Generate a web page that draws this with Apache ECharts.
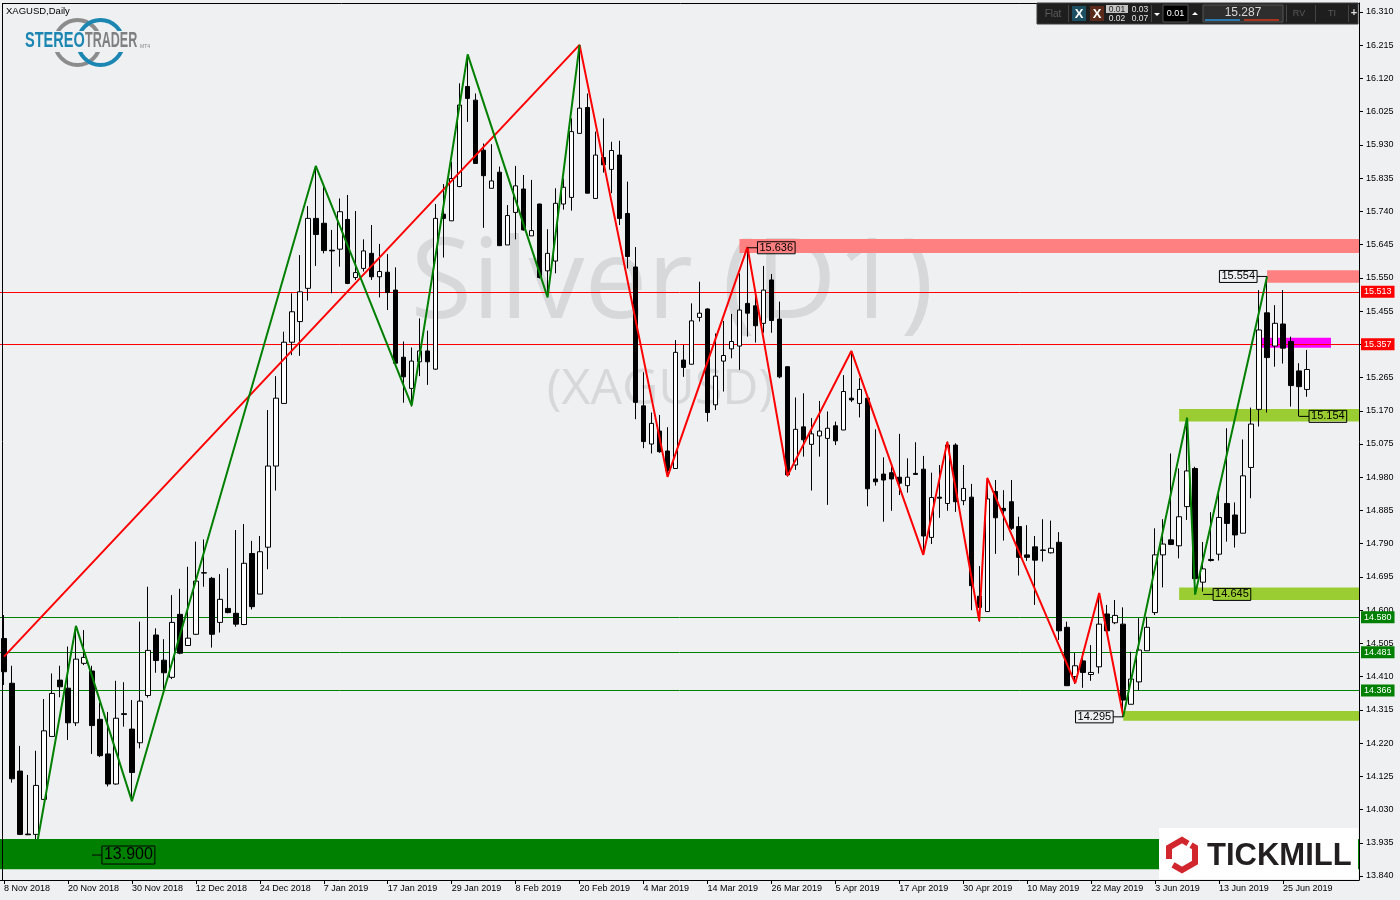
<!DOCTYPE html>
<html><head><meta charset="utf-8">
<script src="https://cdn.jsdelivr.net/npm/echarts@6/dist/echarts.min.js"></script>
<style>html,body{margin:0;padding:0;background:#eff0f2}#c{width:1400px;height:900px}</style>
</head><body><div id="c"></div>
<script>
// ---------- DATA ----------
const firstDay = '2018-11-08';
const tradingDayCount = 164;      // 8 Nov 2018 .. 28 Jun 2019
const futureSlots = 6;            // empty space on the right
const holidays = ['2018-12-25', '2019-01-01', '2019-04-19'];

// daily bars: [open, high, low, close]
const ohlc = [
[14.519,14.586,14.386,14.424],[14.391,14.441,14.107,14.118],[14.140,14.212,13.957,13.959],[13.960,14.129,13.957,13.958],
[13.959,14.198,13.915,14.099],[14.059,14.346,14.057,14.255],[14.239,14.419,14.239,14.362],[14.400,14.441,14.351,14.381],
[14.377,14.496,14.229,14.278],[14.278,14.552,14.269,14.460],[14.448,14.543,14.443,14.465],[14.426,14.441,14.189,14.270],
[14.288,14.336,14.180,14.184],[14.189,14.309,14.096,14.103],[14.103,14.398,14.101,14.291],[14.304,14.394,14.267,14.302],
[14.260,14.343,14.054,14.136],[14.221,14.567,14.205,14.340],[14.356,14.667,14.350,14.485],[14.529,14.548,14.421,14.456],
[14.457,14.517,14.372,14.421],[14.408,14.643,14.403,14.565],[14.588,14.661,14.474,14.477],[14.499,14.724,14.498,14.520],
[14.531,14.796,14.529,14.683],[14.707,14.802,14.667,14.706],[14.691,14.695,14.493,14.531],[14.565,14.703,14.536,14.631],
[14.605,14.720,14.591,14.593],[14.591,14.829,14.553,14.560],[14.559,14.846,14.557,14.734],[14.762,14.798,14.602,14.610],
[14.646,14.812,14.646,14.767],[14.780,15.172,14.717,15.012],[15.012,15.269,14.942,15.206],[15.191,15.396,15.191,15.366],
[15.366,15.506,15.329,15.453],[15.425,15.615,15.327,15.510],[15.520,15.755,15.485,15.720],[15.720,15.870,15.584,15.674],
[15.706,15.811,15.620,15.628],[15.629,15.687,15.506,15.627],[15.632,15.777,15.582,15.739],[15.717,15.787,15.532,15.534],
[15.551,15.741,15.544,15.565],[15.577,15.660,15.568,15.627],[15.620,15.701,15.544,15.553],[15.553,15.647,15.494,15.568],
[15.566,15.618,15.458,15.508],[15.515,15.580,15.306,15.306],[15.323,15.368,15.193,15.267],[15.234,15.351,15.182,15.312],
[15.310,15.434,15.269,15.341],[15.341,15.399,15.244,15.310],[15.289,15.761,15.287,15.720],[15.732,15.818,15.608,15.720],
[15.713,15.882,15.713,15.834],[15.811,16.106,15.809,16.044],[16.097,16.187,15.996,16.063],[16.058,16.077,15.877,15.877],
[15.915,15.934,15.693,15.842],[15.806,15.932,15.806,15.827],[15.852,15.868,15.642,15.642],[15.644,15.758,15.644,15.728],
[15.737,15.870,15.660,15.813],[15.804,15.844,15.685,15.687],[15.670,15.830,15.670,15.685],[15.761,15.762,15.548,15.551],
[15.570,15.689,15.496,15.620],[15.598,15.806,15.563,15.763],[15.761,15.834,15.745,15.809],[15.780,16.006,15.742,15.968],
[15.963,16.216,15.963,16.035],[16.037,16.077,15.792,15.792],[15.777,15.968,15.777,15.901],[15.894,16.006,15.851,15.873],
[15.860,15.939,15.792,15.914],[15.901,15.942,15.701,15.720],[15.734,15.825,15.577,15.611],[15.581,15.638,15.146,15.194],
[15.184,15.280,15.063,15.082],[15.075,15.165,15.048,15.134],[15.112,15.158,15.050,15.053],[15.055,15.123,14.982,14.999],
[15.005,15.372,15.005,15.337],[15.315,15.358,15.267,15.294],[15.303,15.477,15.303,15.427],[15.437,15.539,15.425,15.449],
[15.461,15.463,15.139,15.165],[15.187,15.391,15.172,15.269],[15.312,15.427,15.225,15.328],[15.347,15.447,15.320,15.368],
[15.355,15.563,15.287,15.458],[15.477,15.636,15.382,15.449],[15.470,15.506,15.365,15.413],[15.420,15.584,15.393,15.515],
[15.544,15.561,15.393,15.428],[15.432,15.482,15.263,15.267],[15.296,15.296,14.982,14.987],[15.015,15.208,15.001,15.117],
[15.124,15.220,15.039,15.087],[15.074,15.149,14.942,15.104],[15.098,15.198,15.039,15.112],[15.091,15.168,14.901,15.120],
[15.127,15.139,15.072,15.084],[15.115,15.272,15.115,15.225],[15.206,15.339,15.195,15.201],[15.191,15.263,15.151,15.231],
[15.206,15.210,14.897,14.947],[14.975,15.117,14.956,14.967],[14.989,15.037,14.853,14.972],[14.993,15.010,14.884,14.975],
[14.980,15.104,14.929,14.963],[14.956,15.034,14.936,14.980],[14.991,15.080,14.988,14.988],[15.003,15.041,14.758,14.812],
[14.808,14.993,14.789,14.922],[14.923,15.015,14.864,14.920],[14.905,15.082,14.884,15.072],[15.072,15.077,14.881,14.910],
[14.913,15.015,14.900,14.948],[14.923,14.961,14.600,14.670],[14.640,14.726,14.567,14.608],[14.596,14.978,14.596,14.918],
[14.939,14.972,14.761,14.864],[14.891,14.943,14.799,14.884],[14.910,14.972,14.829,14.834],[14.839,14.867,14.699,14.751],
[14.758,14.843,14.741,14.751],[14.781,14.812,14.615,14.743],[14.772,14.860,14.739,14.771],[14.764,14.856,14.762,14.777],
[14.794,14.823,14.515,14.541],[14.551,14.567,14.384,14.384],[14.410,14.478,14.389,14.441],[14.455,14.481,14.378,14.422],
[14.416,14.500,14.398,14.422],[14.438,14.646,14.419,14.560],[14.589,14.615,14.541,14.541],[14.564,14.629,14.560,14.585],
[14.560,14.608,14.295,14.343],[14.331,14.481,14.331,14.403],[14.395,14.577,14.370,14.486],[14.484,14.581,14.484,14.551],
[14.593,14.834,14.586,14.758],[14.758,14.860,14.665,14.789],[14.801,15.048,14.786,14.788],[14.784,15.005,14.748,14.867],
[14.896,15.150,14.858,14.998],[15.005,15.010,14.645,14.690],[14.680,14.795,14.653,14.718],[14.745,14.880,14.739,14.742],
[14.760,14.937,14.742,14.865],[14.905,15.120,14.796,14.848],[14.872,14.908,14.779,14.815],[14.820,15.088,14.820,14.984],
[15.008,15.179,14.920,15.132],[15.174,15.515,15.125,15.401],[15.450,15.554,15.165,15.322],[15.355,15.472,15.296,15.420],
[15.418,15.515,15.305,15.349],[15.368,15.382,15.182,15.242],[15.284,15.306,15.154,15.239],[15.231,15.344,15.210,15.288]
];

// price-axis tick labels
const yTicks = [13.840,13.935,14.030,14.125,14.220,14.315,14.410,14.505,14.600,14.695,14.790,14.885,14.980,
  15.075,15.170,15.265,15.360,15.455,15.550,15.645,15.740,15.835,15.930,16.025,16.120,16.215,16.310];

// zigzag vertices [bar index, price]
const greenZigLeft = [[4,13.915],[9,14.555],[16,14.054],[39,15.870],[51,15.185],[58,16.189],[68,15.494],[72,16.216]];
const redZig = [[0,14.467],[72,16.216],[83,14.981],[93,15.638],[98,14.984],[106,15.341],[115,14.758],[118,15.081],
  [122,14.569],[123,14.978],[134,14.391],[137,14.649],[140,14.298]];
const greenZigRight = [[140,14.295],[148,15.150],[149,14.645],[158,15.554]];

// horizontal levels
const redLevels = [15.513, 15.357];
const greenLevels = [14.580, 14.481, 14.366];

// zones: [start bar, end bar (null = right edge), top price, bottom price, kind]
const zones = [
  [92, null, 15.661, 15.621, 'resist'],
  [158, null, 15.572, 15.536, 'resist'],
  [157, 166, 15.379, 15.350, 'pivot'],
  [147, null, 15.175, 15.139, 'support'],
  [147, null, 14.665, 14.629, 'support'],
  [140, null, 14.312, 14.284, 'support']
];
const band = [13.946, 13.859];

// price tags: [bar, price, side, size]
const tags = [[93,15.636,'right','s'],[158,15.554,'left','s'],[162,15.154,'right','s'],
  [150,14.645,'right','s'],[140,14.295,'left','s'],[11,13.900,'right','l']];

// ---------- BUILD ----------
const dates = (function(){
  const out = []; const d = new Date(firstDay + 'T00:00:00Z');
  while (out.length < tradingDayCount + futureSlots) {
    const s = d.toISOString().slice(0,10), w = d.getUTCDay();
    if (w !== 0 && w !== 6 && holidays.indexOf(s) < 0) out.push(s);
    d.setUTCDate(d.getUTCDate() + 1);
  }
  return out;
})();
const MON = ['Jan','Feb','Mar','Apr','May','Jun','Jul','Aug','Sep','Oct','Nov','Dec'];
function fmtDate(s){ const p = s.split('-'); return (+p[2]) + ' ' + MON[+p[1]-1] + ' ' + p[0]; }
const showIdx = (i) => i % 8 === 0 && i < tradingDayCount;

const zoneColors = {resist:'#ff8080', pivot:'#ff00ff', support:'#9acd32'};
const FONT = 'Liberation Sans';
const BG = '#eff0f2';

const chart = echarts.init(document.getElementById('c'), null, {renderer:'canvas', width:1400, height:900});

const graphics = [
  {type:'text', z:0, style:{text:'Silver (D1)', x:672, y:286, textAlign:'center', textVerticalAlign:'middle', font:'112px "Open Sans"', fill:'#d6d8da'}},
  {type:'text', z:0, style:{text:'(XAGUSD)', x:660, y:390, textAlign:'center', textVerticalAlign:'middle', font:'50px "Open Sans"', fill:'#d6d8da'}},
  {type:'line', z:10, shape:{x1:2.5,y1:3.5,x2:1359,y2:3.5}, style:{stroke:'#000',lineWidth:1}},
  {type:'line', z:10, shape:{x1:2.5,y1:3,x2:2.5,y2:880}, style:{stroke:'#000',lineWidth:1}},
  {type:'text', z:10, style:{text:'XAGUSD,Daily', x:6, y:11, textVerticalAlign:'middle', font:'9.5px "'+FONT+'"', fill:'#000'}},
  // StereoTrader logo
  {type:'circle', z:10, shape:{cx:77.5,cy:42.5,r:22.5}, style:{fill:null, stroke:'#8c8c8c', lineWidth:4}},
  {type:'circle', z:10, shape:{cx:100.5,cy:42.5,r:22.5}, style:{fill:null, stroke:'#1b86b2', lineWidth:4}},
  {type:'rect', z:11, shape:{x:23,y:31,width:118,height:21}, style:{fill:BG}},
  {type:'text', z:12, x:25, y:41, scaleX:0.66, style:{text:'STEREO', font:'bold 22px "'+FONT+'"', fill:'#1b86b2', textVerticalAlign:'middle'}},
  {type:'text', z:12, x:85, y:41, scaleX:0.57, style:{text:'TRADER', font:'bold 22px "'+FONT+'"', fill:'#7f7f7f', textVerticalAlign:'middle'}},
  {type:'text', z:12, style:{text:'MT4', x:140, y:47, font:'5px "'+FONT+'"', fill:'#888', textVerticalAlign:'middle'}},
  // Tickmill logo
  {type:'rect', z:10, shape:{x:1159,y:828,width:199,height:51}, style:{fill:'#ffffff'}},
  {type:'polyline', z:11, shape:{points:[[1191,845.2],[1195,847.5],[1195,862.5],[1182,870],[1173,864.8]]}, style:{stroke:'#d2262e', lineWidth:6, fill:null, lineJoin:'miter'}},
  {type:'polyline', z:11, shape:{points:[[1169,859],[1169,847.5],[1182,840],[1188,843.5]]}, style:{stroke:'#d2262e', lineWidth:6, fill:null, lineJoin:'miter'}},
  {type:'text', z:11, style:{text:'TICKMILL', x:1207, y:856, textVerticalAlign:'middle', font:'bold 31px "'+FONT+'"', fill:'#231f20'}},
  // trading toolbar
  {type:'rect', z:10, shape:{x:1037,y:3,width:321,height:21}, style:{fill:'#1e1e1e', stroke:'#3c3c3c', lineWidth:1}},
  {type:'text', z:11, style:{text:'Flat', x:1053, y:14, textAlign:'center', textVerticalAlign:'middle', font:'10px "'+FONT+'"', fill:'#5c5c5c'}},
  {type:'line', z:11, shape:{x1:1068.5,y1:5,x2:1068.5,y2:22}, style:{stroke:'#444'}},
  {type:'rect', z:11, shape:{x:1072,y:6,width:14,height:15}, style:{fill:'#1b4f61'}},
  {type:'text', z:12, style:{text:'X', x:1079, y:14, textAlign:'center', textVerticalAlign:'middle', font:'bold 13px "'+FONT+'"', fill:'#fff'}},
  {type:'rect', z:11, shape:{x:1090,y:6,width:14,height:15}, style:{fill:'#5c2a1b'}},
  {type:'text', z:12, style:{text:'X', x:1097, y:14, textAlign:'center', textVerticalAlign:'middle', font:'bold 13px "'+FONT+'"', fill:'#fff'}},
  {type:'rect', z:11, shape:{x:1106,y:5,width:22,height:8}, style:{fill:'#c4c4c4'}},
  {type:'text', z:12, style:{text:'0.01', x:1117, y:9.5, textAlign:'center', textVerticalAlign:'middle', font:'8.5px "'+FONT+'"', fill:'#222'}},
  {type:'text', z:12, style:{text:'0.03', x:1140, y:9.5, textAlign:'center', textVerticalAlign:'middle', font:'8.5px "'+FONT+'"', fill:'#e6e6e6'}},
  {type:'text', z:12, style:{text:'0.02', x:1117, y:18.5, textAlign:'center', textVerticalAlign:'middle', font:'8.5px "'+FONT+'"', fill:'#e6e6e6'}},
  {type:'text', z:12, style:{text:'0.07', x:1140, y:18.5, textAlign:'center', textVerticalAlign:'middle', font:'8.5px "'+FONT+'"', fill:'#e6e6e6'}},
  {type:'line', z:11, shape:{x1:1151.5,y1:5,x2:1151.5,y2:22}, style:{stroke:'#444'}},
  {type:'polygon', z:11, shape:{points:[[1154,13],[1160,13],[1157,16]]}, style:{fill:'#fff'}},
  {type:'rect', z:11, shape:{x:1163,y:5,width:25,height:17}, style:{fill:'#000', stroke:'#555'}},
  {type:'text', z:12, style:{text:'0.01', x:1175.5, y:14, textAlign:'center', textVerticalAlign:'middle', font:'9px "'+FONT+'"', fill:'#fff'}},
  {type:'polygon', z:11, shape:{points:[[1192,15],[1198,15],[1195,12]]}, style:{fill:'#fff'}},
  {type:'rect', z:11, shape:{x:1203,y:5,width:80,height:17}, style:{fill:'#2e2e2e', stroke:'#555'}},
  {type:'text', z:12, style:{text:'15.287', x:1243, y:12.5, textAlign:'center', textVerticalAlign:'middle', font:'12px "'+FONT+'"', fill:'#d8d8d8'}},
  {type:'rect', z:12, shape:{x:1205,y:19,width:35,height:2}, style:{fill:'#2a7ab0'}},
  {type:'rect', z:12, shape:{x:1244,y:19,width:35,height:2}, style:{fill:'#a8361f'}},
  {type:'line', z:11, shape:{x1:1286.5,y1:5,x2:1286.5,y2:22}, style:{stroke:'#444'}},
  {type:'text', z:12, style:{text:'RV', x:1299, y:14, textAlign:'center', textVerticalAlign:'middle', font:'9px "'+FONT+'"', fill:'#5a5a5a'}},
  {type:'line', z:11, shape:{x1:1315.5,y1:5,x2:1315.5,y2:22}, style:{stroke:'#444'}},
  {type:'text', z:12, style:{text:'TI', x:1332, y:14, textAlign:'center', textVerticalAlign:'middle', font:'9px "'+FONT+'"', fill:'#5a5a5a'}},
  {type:'line', z:11, shape:{x1:1348.5,y1:5,x2:1348.5,y2:22}, style:{stroke:'#444'}},
  {type:'text', z:12, style:{text:'+', x:1354, y:13, textAlign:'center', textVerticalAlign:'middle', font:'bold 11px "'+FONT+'"', fill:'#ddd'}}
];

const levelLine = (v, color) => ({
  yAxis: v,
  lineStyle: {color: color, width: 1, type: 'solid', opacity: 1},
  label: {show: true, position: 'end', distance: 2, formatter: () => v.toFixed(3),
          backgroundColor: color, color: '#fff', fontSize: 9, fontFamily: FONT, padding: [2,3,1,3]}
});

const option = {
  backgroundColor: BG,
  animation: false,
  grid: {left: 0, top: 3, width: 1359, height: 877, containLabel: false},
  xAxis: {
    type: 'category', data: dates, boundaryGap: true,
    axisLine: {show: true, lineStyle: {color: '#000', width: 1}},
    axisTick: {show: true, alignWithLabel: true, interval: showIdx, length: 4, lineStyle: {color: '#000'}},
    axisLabel: {interval: showIdx, formatter: fmtDate, align: 'left', color: '#000', fontSize: 9, fontFamily: FONT, margin: 4},
    splitLine: {show: false}
  },
  yAxis: {
    type: 'value', position: 'right', min: 13.8286, max: 16.3357,
    axisLine: {show: true, lineStyle: {color: '#000'}},
    axisTick: {show: true, customValues: yTicks, length: 4, lineStyle: {color: '#000'}},
    axisLabel: {customValues: yTicks, formatter: v => v.toFixed(3), color: '#000', fontSize: 9, fontFamily: FONT, margin: 7},
    splitLine: {show: false}
  },
  graphic: graphics,
  series: [
    {
      name: 'zones', type: 'line', data: [], z: 1, silent: true,
      markArea: {
        silent: true, z: 1, label: {show: false},
        data: zones.map(zn => {
          const a = {xAxis: zn[0], yAxis: zn[2], itemStyle: {color: zoneColors[zn[4]], opacity: 1, borderWidth: 0}};
          const b = {yAxis: zn[3]};
          if (zn[1] !== null) b.xAxis = zn[1];
          return [a, b];
        })
      },
      markLine: {
        silent: true, z: 1, symbol: ['none','none'], animation: false,
        data: redLevels.map(v => levelLine(v, '#ff0000')).concat(greenLevels.map(v => levelLine(v, '#008000')))
      }
    },
    {
      name: 'XAGUSD', type: 'candlestick', z: 2, barWidth: 5,
      data: ohlc.map(r => [r[0], r[3], r[2], r[1]]),
      itemStyle: {color: '#ffffff', color0: '#000000', borderColor: '#000000', borderColor0: '#000000', borderWidth: 1}
    },
    {type: 'line', z: 3, data: redZig, symbol: 'none', silent: true, lineStyle: {color: '#ff0000', width: 2}},
    {type: 'line', z: 3, data: greenZigLeft, symbol: 'none', silent: true, lineStyle: {color: '#008000', width: 2}},
    {type: 'line', z: 3, data: greenZigRight, symbol: 'none', silent: true, lineStyle: {color: '#008000', width: 2}},
    {
      name: 'band', type: 'line', data: [], z: 4, silent: true,
      markArea: {silent: true, z: 4, label: {show: false},
        data: [[{yAxis: band[0], itemStyle: {color: '#008000', opacity: 1}}, {yAxis: band[1]}]]}
    },
    {
      name: 'tags', type: 'scatter', z: 5, silent: true, symbol: 'rect',
      itemStyle: {color: '#000', opacity: 1},
      data: tags.map(t => ({
        value: [t[0], t[1]],
        symbolSize: [10, 1],
        symbolOffset: t[2] === 'right' ? [5, 0] : [-5, 0],
        label: {show: true, position: t[2], distance: 0, formatter: t[1].toFixed(3),
                fontSize: t[3] === 'l' ? 16 : 11, fontFamily: FONT, color: '#000',
                borderColor: '#000', borderWidth: 1, padding: t[3] === 'l' ? [2,2,0,2] : [1,2,0,2]}
      }))
    }
  ]
};
chart.setOption(option);
</script>
</body></html>
